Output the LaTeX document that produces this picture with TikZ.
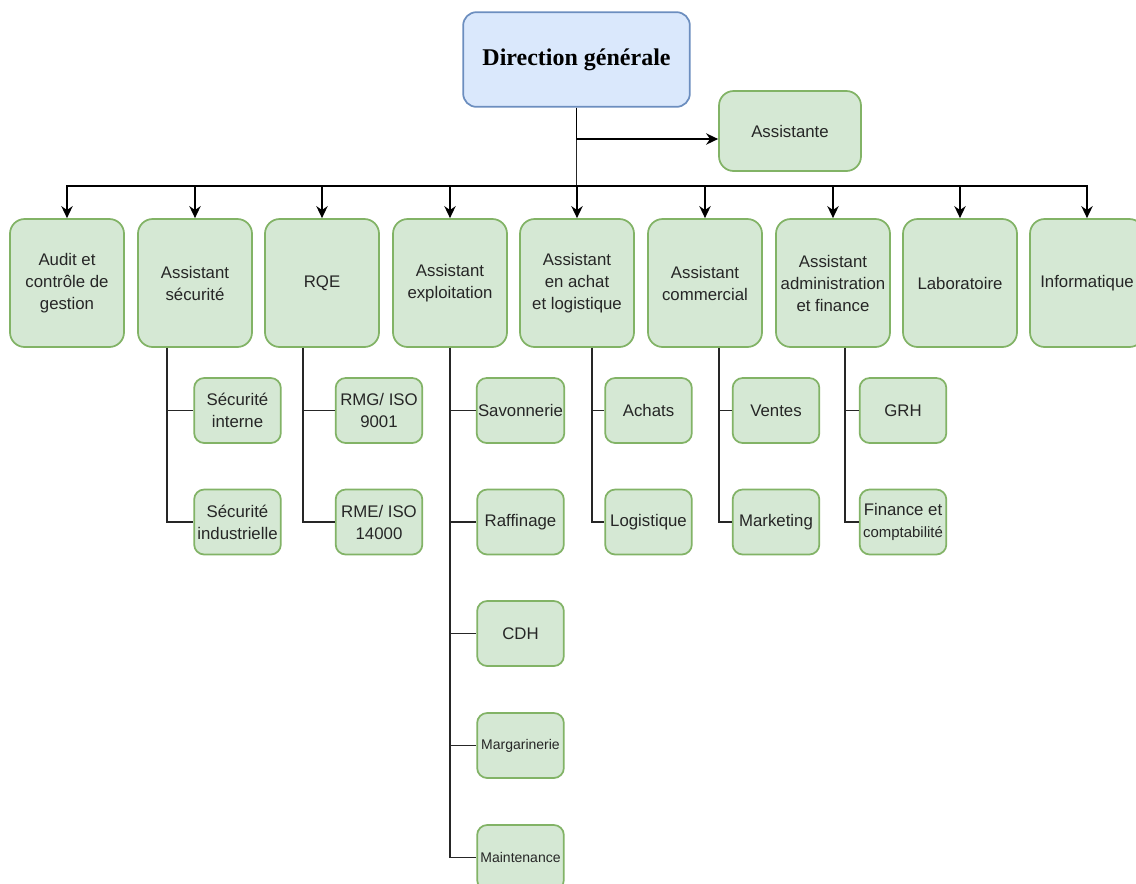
\documentclass[tikz,border=0pt]{standalone}
\usepackage{fontspec}
\setmainfont{Liberation Sans}
\newfontfamily\dgfont{Liberation Serif}
\usetikzlibrary{arrows.meta}
\definecolor{boxgreen}{HTML}{D5E8D4}
\definecolor{linegreen}{HTML}{82B366}
\definecolor{boxblue}{HTML}{DAE8FC}
\definecolor{lineblue}{HTML}{6C8EBF}
\definecolor{txt}{HTML}{262626}

\begin{document}
\begin{tikzpicture}[x=0.75pt,y=-0.75pt,
    service/.style={draw=linegreen,fill=boxgreen,line width=1.3pt,rounded corners=11pt,
        minimum width=85.5pt,minimum height=96pt,align=center,inner sep=1pt,text=txt,
        font=\fontsize{12.6}{16.5}\selectfont},
    unite/.style={service,rounded corners=7.5pt,minimum width=65pt,minimum height=48.75pt},
    petit/.style={font=\fontsize{10.5}{13}\selectfont},
    fleche/.style={-{Stealth[length=9pt,width=8.5pt]},line width=1.4pt},
    lien/.style={line width=1.4pt,draw=txt}]
    \clip (0,0) rectangle (1136,883);
    \fill[white] (0,0) rectangle (1136,883);

    \node[service,draw=lineblue,fill=boxblue,minimum width=170pt,minimum height=71pt,
        rounded corners=10pt,text=black,font=\dgfont\bfseries\fontsize{18}{22}\selectfont]
        (dg) at (576.5,59.5) {Direction générale};
    \node[service,minimum width=106.5pt,minimum height=60pt] (assistante) at (790,131) {Assistante};

    % premier niveau
    \node[service] (audit) at (67,283) {Audit et\\contrôle de\\gestion};
    \node[service] (securite) at (195,283) {Assistant\\sécurité};
    \node[service] (rqe) at (322,283) {RQE};
    \node[service] (exploitation) at (450,283) {Assistant\\exploitation};
    \node[service] (achat) at (577,283) {Assistant\\en achat\\et logistique};
    \node[service] (commercial) at (705,283) {Assistant\\commercial};
    \node[service] (admin) at (833,283) {Assistant\\administration\\et finance};
    \node[service] (labo) at (960,283) {Laboratoire};
    \node[service] (info) at (1087,283) {Informatique};

    % second niveau
    \node[unite] (secint) at (237.5,410.5) {Sécurité\\interne};
    \node[unite] (secind) at (237.5,522) {Sécurité\\industrielle};
    \node[unite] (rmg) at (379,410.5) {RMG/ ISO\\9001};
    \node[unite] (rme) at (379,522) {RME/ ISO\\14000};
    \node[unite] (savon) at (520.5,410.5) {Savonnerie};
    \node[unite] (raff) at (520.5,522) {Raffinage};
    \node[unite] (cdh) at (520.5,633.5) {CDH};
    \node[unite,petit] (marg) at (520.5,745.5) {Margarinerie};
    \node[unite,petit] (maint) at (520.5,857.5) {Maintenance};
    \node[unite] (achats) at (648.5,410.5) {Achats};
    \node[unite] (logis) at (648.5,522) {Logistique};
    \node[unite] (ventes) at (776,410.5) {Ventes};
    \node[unite] (marketing) at (776,522) {Marketing};
    \node[unite] (grh) at (903,410.5) {GRH};
    \node[unite] (finance) at (903,522) {Finance et\\{\fontsize{11.2}{13}\selectfont comptabilité}};

    % liaisons
    \coordinate (bus) at (576.5,186);
    \draw[lien] (dg.south) -- (bus);
    \draw[fleche] (dg.south) |- ([yshift=-6pt]assistante.west);
    \foreach \n in {audit,securite,rqe,exploitation,achat,commercial,admin,labo,info}
        \draw[fleche] (bus) -| (\n.north);

    \foreach \n in {secint,secind}
        \draw[lien] ([shift={(-28,0)}]securite.south) |- (\n.west);
    \foreach \n in {rmg,rme}
        \draw[lien] ([shift={(-19,0)}]rqe.south) |- (\n.west);
    \foreach \n in {savon,raff,cdh,marg,maint}
        \draw[lien] (exploitation.south) |- (\n.west);
    \foreach \n in {achats,logis}
        \draw[lien] ([shift={(15,0)}]achat.south) |- (\n.west);
    \foreach \n in {ventes,marketing}
        \draw[lien] ([shift={(14,0)}]commercial.south) |- (\n.west);
    \foreach \n in {grh,finance}
        \draw[lien] ([shift={(12,0)}]admin.south) |- (\n.west);
\end{tikzpicture}
\end{document}
